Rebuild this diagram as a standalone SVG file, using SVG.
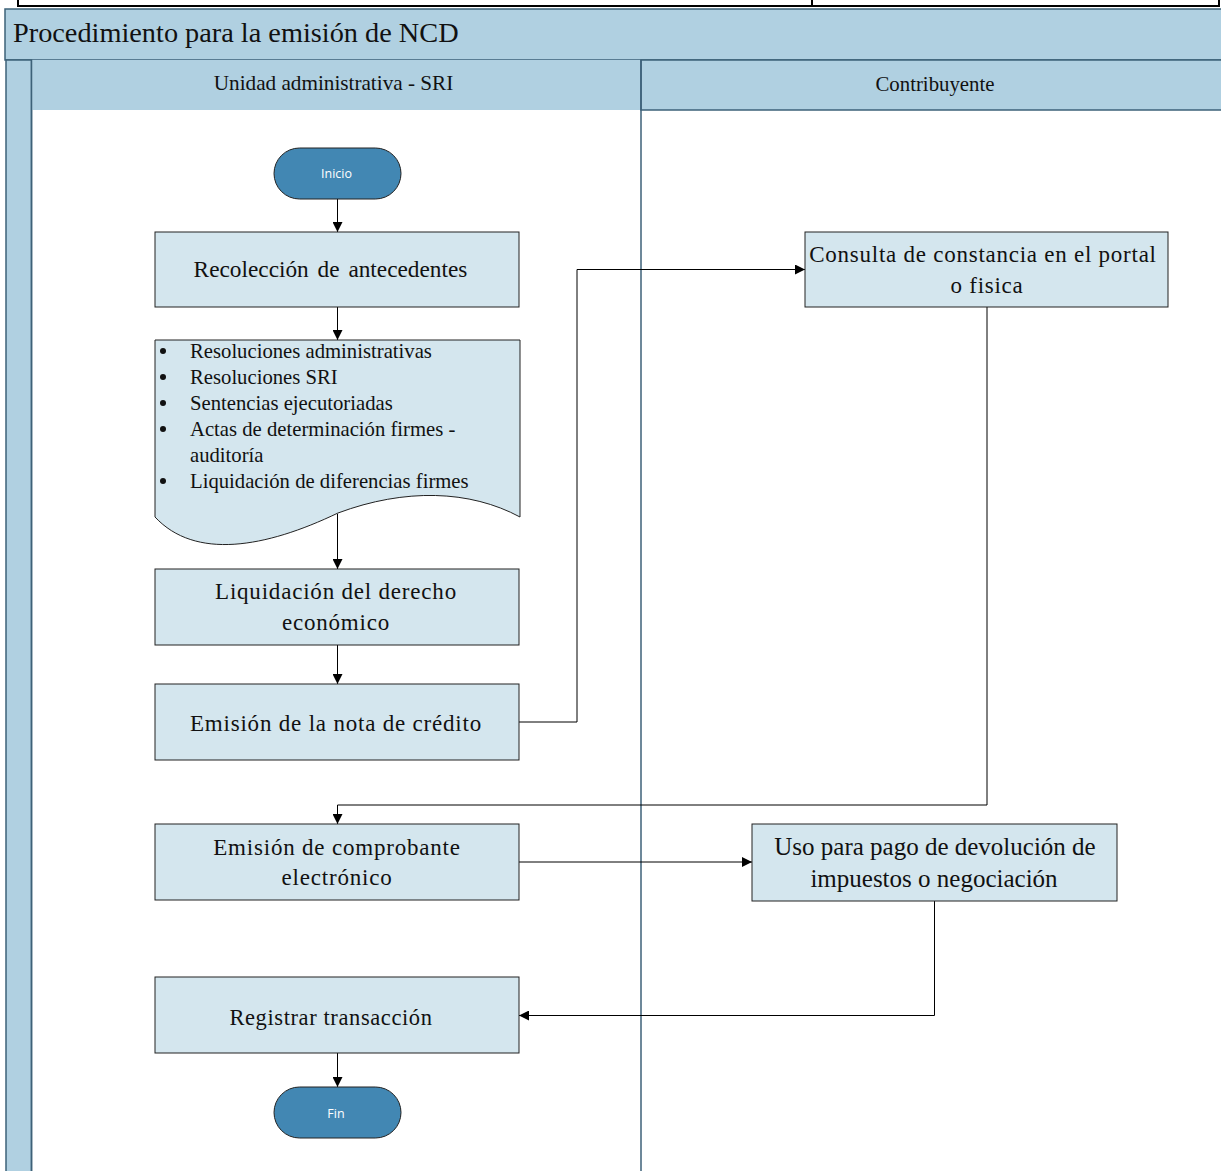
<svg xmlns="http://www.w3.org/2000/svg" width="1221" height="1171" viewBox="0 0 1221 1171">
<defs>
<marker id="arr" viewBox="0 0 10 10" refX="10" refY="5" markerWidth="10" markerHeight="10" markerUnits="userSpaceOnUse" orient="auto">
<path d="M0,0 L10,5 L0,10 z" fill="#000"/>
</marker>
<style>
.hdr{fill:#b0d0e1;stroke:#3d6178;stroke-width:1.5}
.box{fill:#d4e6ee;stroke:#222;stroke-width:1}
.term{fill:#4287b3;stroke:#222;stroke-width:1}
.t{font-family:"Liberation Serif","Times New Roman",serif;fill:#111;text-anchor:middle}
.tl{font-family:"Liberation Serif","Times New Roman",serif;fill:#111;font-size:20.7px}
.tt{font-family:"Open Sans","Liberation Sans",sans-serif;fill:#fff;font-size:12.5px;text-anchor:middle}
.c{fill:none;stroke:#000;stroke-width:1}
</style>
</defs>
<rect width="1221" height="1171" fill="#fff"/>
<!-- top table border -->
<g id="topframe" fill="none" stroke="#000" stroke-width="2">
<path d="M18,-2 V6 H1219 V-2"/>
<line x1="812" y1="-2" x2="812" y2="6"/>
</g>
<!-- pool -->
<g id="pool">
<rect class="hdr" x="5" y="9" width="1220" height="51"/>
<rect class="hdr" x="6" y="60" width="25.5" height="1115"/>
<rect class="hdr" x="31.5" y="60" width="609.5" height="50" style="stroke:none"/>
<rect class="hdr" x="641" y="60" width="585" height="50"/>
<line x1="31.5" y1="60" x2="31.5" y2="1175" stroke="#3d6178" stroke-width="1.5"/>
<line x1="641" y1="60" x2="641" y2="1175" stroke="#3d6178" stroke-width="1.5"/>
<text x="13" y="42" style="font-family:'Liberation Serif','Times New Roman',serif;font-size:28.3px;fill:#111">Procedimiento para la emisión de NCD</text>
<text class="t" x="333.5" y="90" style="font-size:21.2px">Unidad administrativa - SRI</text>
<text class="t" x="935" y="91" style="font-size:20.8px">Contribuyente</text>
</g>
<!-- connectors -->
<g id="connectors">
<line class="c" x1="337.5" y1="199" x2="337.5" y2="232" marker-end="url(#arr)"/>
<line class="c" x1="337.5" y1="307" x2="337.5" y2="340" marker-end="url(#arr)"/>
<line class="c" x1="337.5" y1="514" x2="337.5" y2="569" marker-end="url(#arr)"/>
<line class="c" x1="337.5" y1="645" x2="337.5" y2="684" marker-end="url(#arr)"/>
<path class="c" d="M519,722 H577 V269.5 H805" marker-end="url(#arr)"/>
<path class="c" d="M987,307 V805 H337.5 V824" marker-end="url(#arr)"/>
<line class="c" x1="519" y1="862" x2="752" y2="862" marker-end="url(#arr)"/>
<path class="c" d="M934.5,901 V1015.5 H519" marker-end="url(#arr)"/>
<line class="c" x1="337.5" y1="1053" x2="337.5" y2="1087" marker-end="url(#arr)"/>
</g>
<!-- nodes -->
<g id="inicio">
<rect class="term" x="274" y="148" width="127" height="51" rx="25.5"/>
<text class="tt" x="336.5" y="178">Inicio</text>
</g>
<g id="recoleccion">
<rect class="box" x="155" y="232" width="364" height="75"/>
<text class="t" x="330.5" y="277" style="font-size:23.3px;word-spacing:3px">Recolección de antecedentes</text>
</g>
<g id="documentos">
<path class="box" d="M155,340 H520 V517 C470,490 405,488 338,513 C265,548 195,560 155,517 Z"/>
<g class="tl">
<circle cx="163" cy="351" r="3" fill="#111"/>
<circle cx="163" cy="377" r="3" fill="#111"/>
<circle cx="163" cy="403" r="3" fill="#111"/>
<circle cx="163" cy="429" r="3" fill="#111"/>
<circle cx="163" cy="481" r="3" fill="#111"/>
<text x="190" y="358">Resoluciones administrativas</text>
<text x="190" y="384">Resoluciones SRI</text>
<text x="190" y="410">Sentencias ejecutoriadas</text>
<text x="190" y="436">Actas de determinación firmes -</text>
<text x="190" y="462">auditoría</text>
<text x="190" y="488">Liquidación de diferencias firmes</text>
</g>
</g>
<g id="liquidacion">
<rect class="box" x="155" y="569" width="364" height="76"/>
<text class="t" x="336" y="599" style="font-size:23px;letter-spacing:0.8px">Liquidación del derecho</text>
<text class="t" x="336" y="630" style="font-size:23px;letter-spacing:0.8px">económico</text>
</g>
<g id="emision_nota">
<rect class="box" x="155" y="684" width="364" height="76"/>
<text class="t" x="336" y="731" style="font-size:23px;letter-spacing:0.8px">Emisión de la nota de crédito</text>
</g>
<g id="emision_comprobante">
<rect class="box" x="155" y="824" width="364" height="76"/>
<text class="t" x="337" y="855" style="font-size:23px;letter-spacing:0.8px">Emisión de comprobante</text>
<text class="t" x="337" y="885" style="font-size:23px;letter-spacing:0.8px">electrónico</text>
</g>
<g id="registrar">
<rect class="box" x="155" y="977" width="364" height="76"/>
<text class="t" x="331" y="1025" style="font-size:22.5px;letter-spacing:0.6px">Registrar transacción</text>
</g>
<g id="fin">
<rect class="term" x="274" y="1087" width="127" height="51" rx="25.5"/>
<text class="tt" x="336" y="1118">Fin</text>
</g>
<g id="consulta">
<rect class="box" x="805" y="232" width="363" height="75"/>
<text class="t" x="983" y="262" style="font-size:23px;letter-spacing:0.75px">Consulta de constancia en el portal</text>
<text class="t" x="987" y="293" style="font-size:23px;letter-spacing:0.75px">o fisica</text>
</g>
<g id="uso">
<rect class="box" x="752" y="824" width="365" height="77"/>
<text class="t" x="935" y="855" style="font-size:25px">Uso para pago de devolución de</text>
<text class="t" x="934" y="887" style="font-size:25px">impuestos o negociación</text>
</g>
</svg>
